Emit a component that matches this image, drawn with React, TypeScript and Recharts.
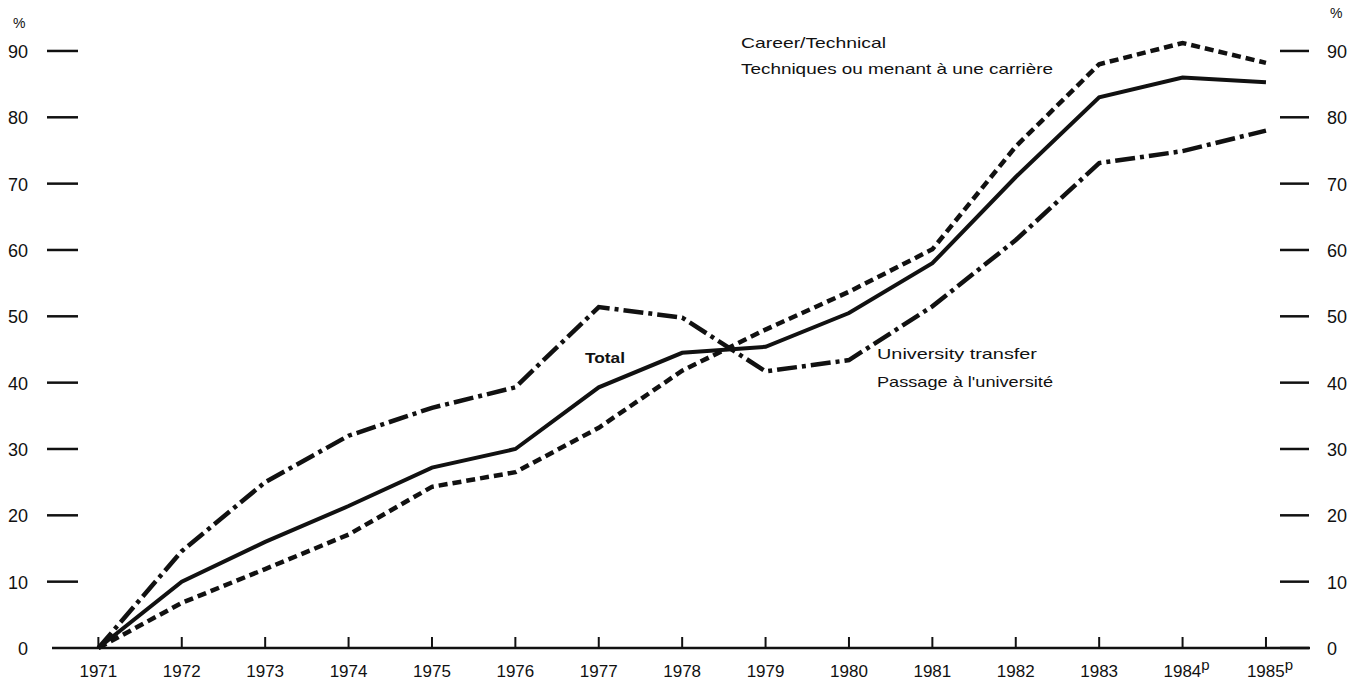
import { LineChart, Line, XAxis, YAxis } from "recharts";

const years = [1971, 1972, 1973, 1974, 1975, 1976, 1977, 1978, 1979, 1980, 1981, 1982, 1983, 1984, 1985];
const total = [0, 10, 16, 21.4, 27.2, 30, 39.3, 44.5, 45.4, 50.5, 58, 71, 83, 86, 85.3];
const career = [0, 6.8, 11.9, 17.1, 24.3, 26.5, 33.2, 41.8, 48, 53.7, 60.1, 75.6, 88, 91.2, 88.2];
const university = [0, 14.6, 25, 32, 36.2, 39.3, 51.4, 49.8, 41.7, 43.4, 51.5, 61.5, 73.1, 74.9, 78];
const yTicks = [0, 10, 20, 30, 40, 50, 60, 70, 80, 90];
const provisional = [1984, 1985];

const data = years.map((year, i) => ({
  year,
  total: total[i],
  career: career[i],
  university: university[i],
}));

const INK = "#111";
const FONT = "'Liberation Sans', Arial, sans-serif";
const BASE = 648;

function YTick({ y, payload }: any) {
  const v = payload.value;
  return (
    <g fontFamily={FONT} fontSize={18} fill={INK}>
      {v !== 0 && <line x1={47} x2={78} y1={y} y2={y} stroke={INK} strokeWidth={2.5} />}
      <text x={28} y={y} dy={7} textAnchor="end">
        {v}
      </text>
      <line x1={1280} x2={1309} y1={y} y2={y} stroke={INK} strokeWidth={2.5} />
      <text x={1327} y={y} dy={7} textAnchor="start">
        {v}
      </text>
    </g>
  );
}

function XTick({ x, payload }: any) {
  const yr = payload.value;
  const p = provisional.includes(yr);
  return (
    <g fontFamily={FONT} fontSize={17} fill={INK}>
      <line x1={x} x2={x} y1={BASE - 11} y2={BASE} stroke={INK} strokeWidth={2} />
      <text x={x + (p ? 4 : 0)} y={BASE + 29} textAnchor="middle">
        {yr}
        {p && (
          <tspan dy={-7} fontSize={15}>
            p
          </tspan>
        )}
      </text>
    </g>
  );
}

export default function App() {
  return (
    <div style={{ position: "absolute", left: 0, top: 0, width: 1365, height: 681, background: "#fff" }}>
      <LineChart width={1365} height={681} data={data} margin={{ top: 43, right: 55, bottom: 0, left: 0 }}>
        <XAxis
          dataKey="year"
          type="number"
          domain={[1970.444, 1985.528]}
          ticks={years}
          height={33}
          axisLine={{ stroke: INK, strokeWidth: 2.5 }}
          tickLine={false}
          tick={<XTick />}
          interval={0}
        />
        <YAxis
          type="number"
          domain={[0, 90]}
          ticks={yTicks}
          width={52}
          axisLine={false}
          tickLine={false}
          tick={<YTick />}
          interval={0}
        />
        <Line
          dataKey="career"
          type="linear"
          stroke={INK}
          strokeWidth={4.5}
          strokeDasharray="9 5"
          dot={false}
          isAnimationActive={false}
        />
        <Line
          dataKey="university"
          type="linear"
          stroke={INK}
          strokeWidth={4.5}
          strokeDasharray="20 5 4 5"
          dot={false}
          isAnimationActive={false}
        />
        <Line dataKey="total" type="linear" stroke={INK} strokeWidth={4} dot={false} isAnimationActive={false} />
      </LineChart>
      <svg
        width={1365}
        height={681}
        style={{ position: "absolute", left: 0, top: 0, pointerEvents: "none" }}
        fontFamily={FONT}
        fill={INK}
      >
        <text x={13} y={28} fontSize={14}>%</text>
        <text x={1330} y={18} fontSize={14}>%</text>
        <text x={741} y={48} fontSize={14.5} textLength={145} lengthAdjust="spacingAndGlyphs">
          Career/Technical
        </text>
        <text x={741} y={74} fontSize={14.5} textLength={312} lengthAdjust="spacingAndGlyphs">
          Techniques ou menant à une carrière
        </text>
        <text x={585} y={363} fontSize={15} fontWeight="bold" textLength={40} lengthAdjust="spacingAndGlyphs">
          Total
        </text>
        <text x={877} y={359} fontSize={15} textLength={160} lengthAdjust="spacingAndGlyphs">
          University transfer
        </text>
        <text x={877} y={387} fontSize={15} textLength={176} lengthAdjust="spacingAndGlyphs">
          Passage à l'université
        </text>
      </svg>
    </div>
  );
}
